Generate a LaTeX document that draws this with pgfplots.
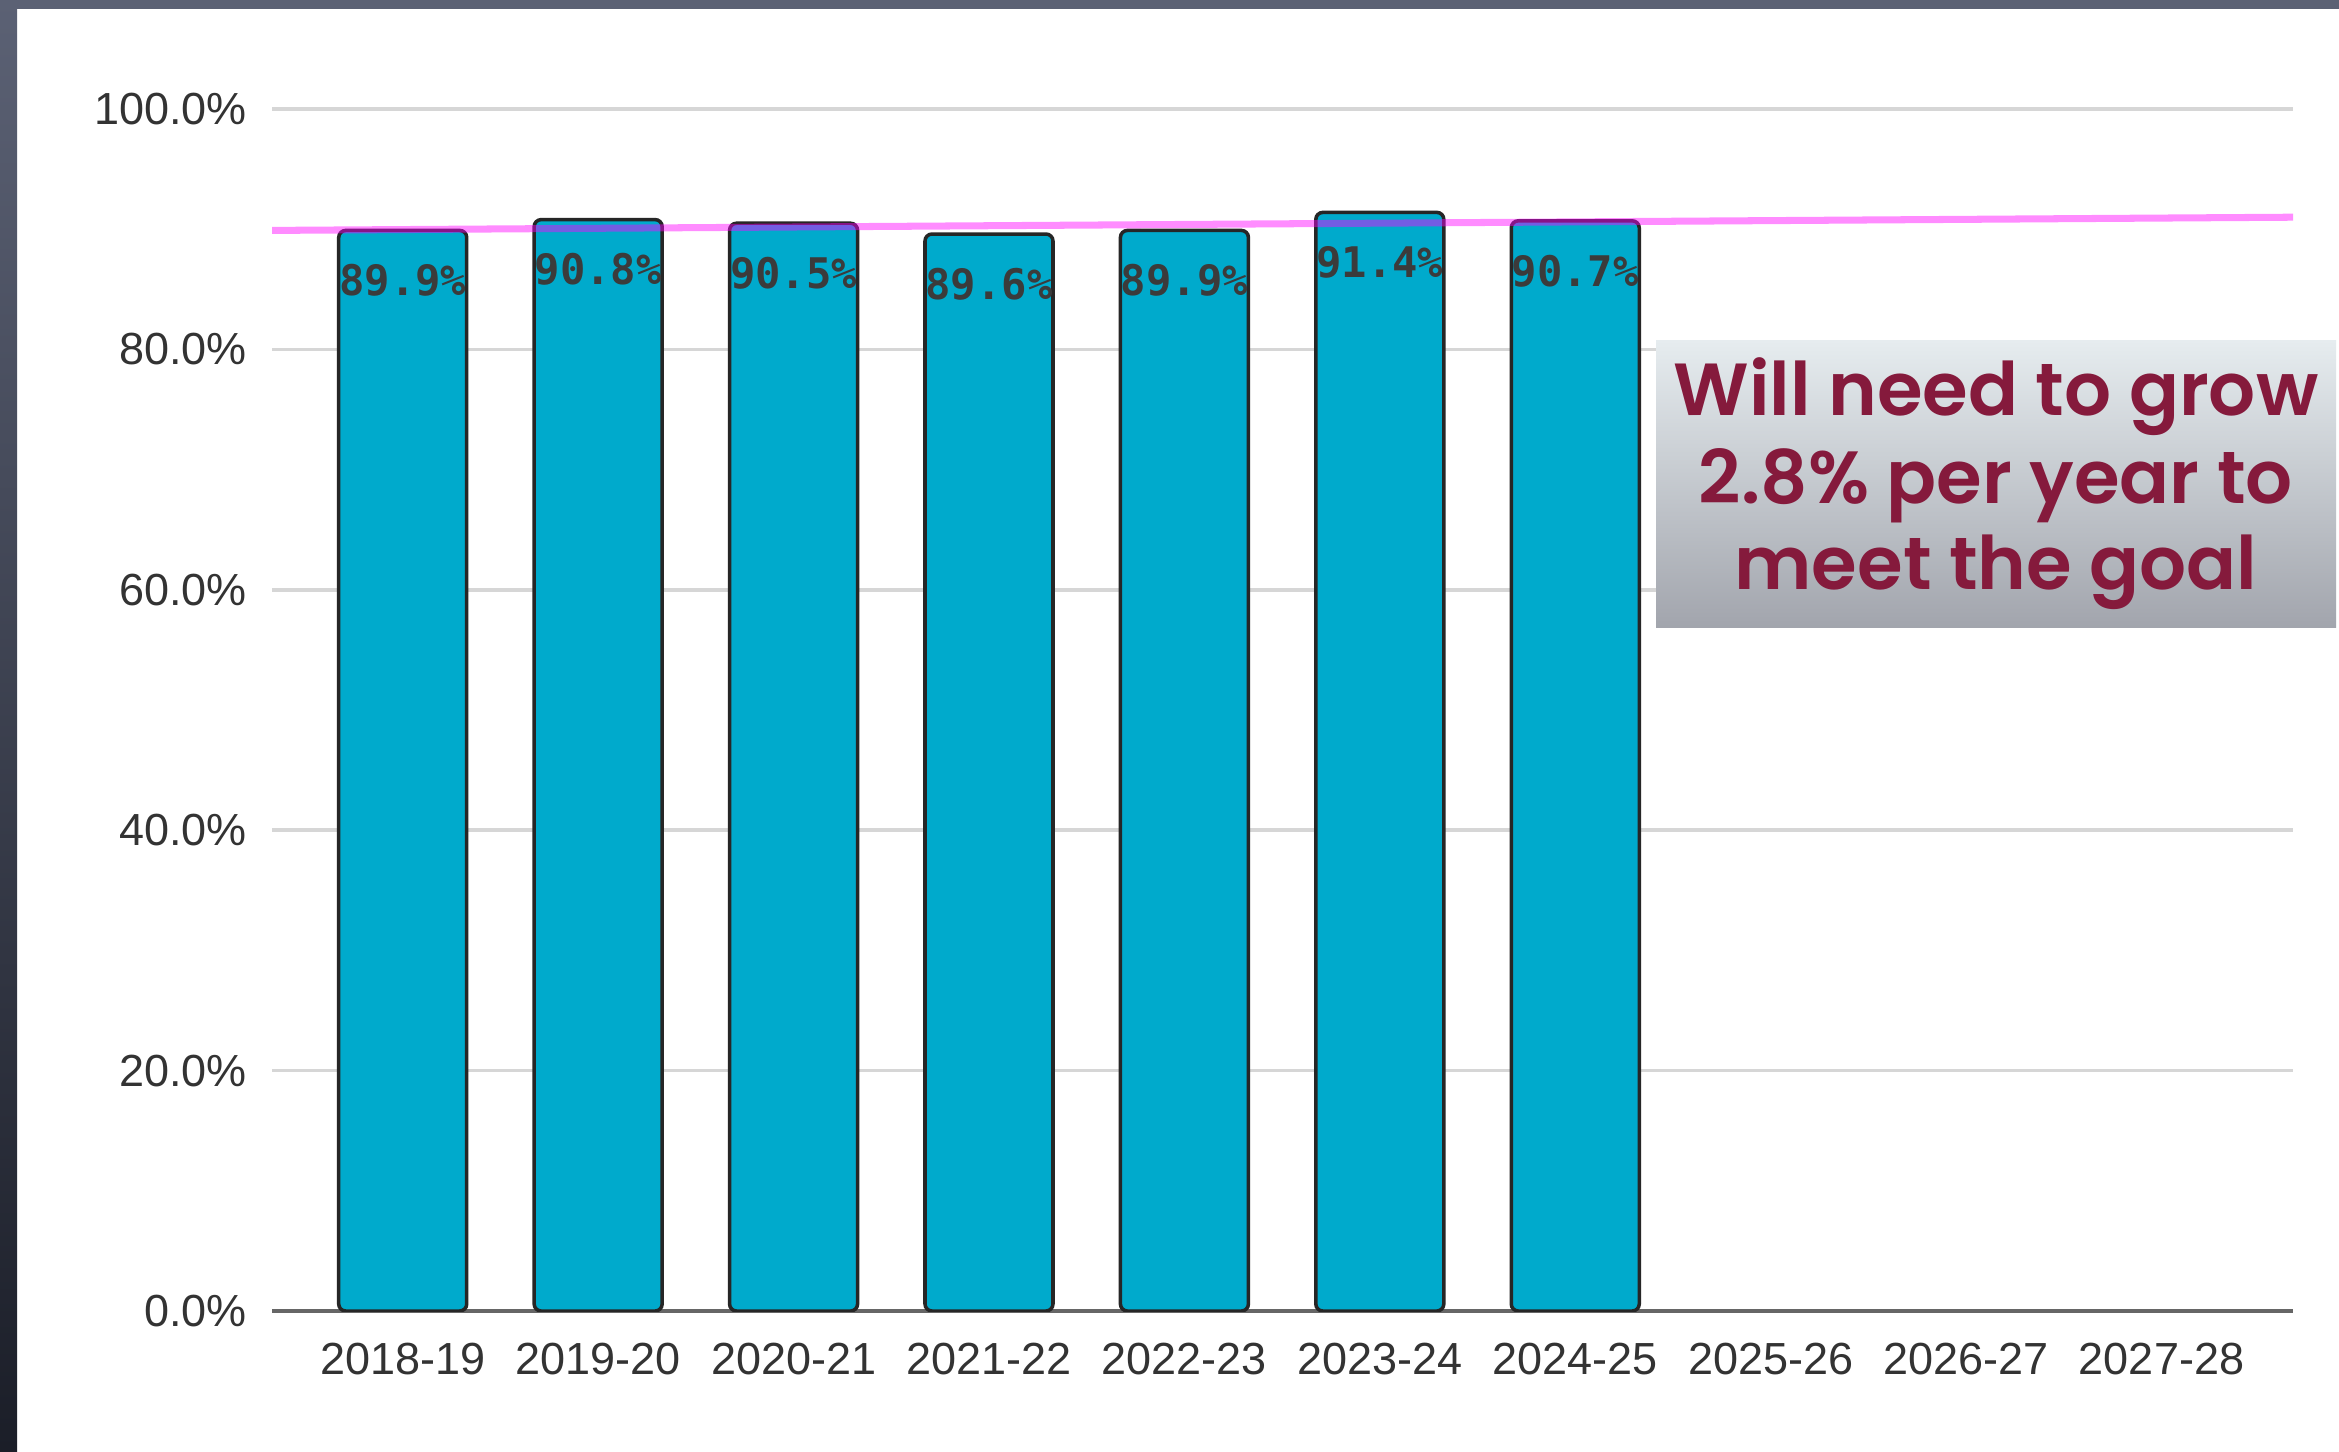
\documentclass[border=0pt]{standalone}
\usepackage{pgfplots}
\pgfplotsset{compat=1.18}
\usepackage{fontspec}
\setmainfont{Liberation Sans}
\newfontfamily\monofont{DejaVu Sans Mono}
\newfontfamily\boxfont{Poppins}[UprightFont=*, BoldFont=* SemiBold]
\definecolor{framec}{HTML}{5B6174}
\definecolor{framed}{HTML}{1B1E28}
\definecolor{barc}{HTML}{00AACC}
\definecolor{gridc}{HTML}{D6D6D6}
\definecolor{axisc}{HTML}{666666}
\definecolor{txtc}{HTML}{333333}
\definecolor{lblc}{HTML}{3B3B3B}
\definecolor{maroonc}{HTML}{851A3C}
\definecolor{boxtop}{HTML}{E6ECEF}
\definecolor{boxbot}{HTML}{A2A5AD}
\definecolor{goalc}{HTML}{FF00FF}
\begin{document}
\begin{tikzpicture}
\path[use as bounding box] (0,0) rectangle (23.39,-14.51);
\fill[white] (0,0) rectangle (23.39,-14.51);
\fill[framec] (0,0) rectangle (23.39,-0.09);
\shade[top color=framec, bottom color=framed] (0,0) rectangle (0.17,-14.51);
\begin{axis}[
  at={(2.72cm,-13.11cm)}, anchor=south west,
  scale only axis, width=20.21cm, height=12.02cm,
  xmin=-0.669, xmax=9.673, ymin=0, ymax=100,
  axis lines*=left,
  y axis line style={draw=none},
  x axis line style={axisc, line width=1.4pt, -},
  major tick length=0pt,
  ymajorgrids, grid style={gridc, line width=1pt},
  xtick={0,1,2,3,4,5,6,7,8,9},
  xticklabels={2018-19,2019-20,2020-21,2021-22,2022-23,2023-24,2024-25,2025-26,2026-27,2027-28},
  ytick={0,20,40,60,80,100},
  yticklabels={0.0\%,20.0\%,40.0\%,60.0\%,80.0\%,100.0\%},
  tick label style={font=\fontsize{12.8}{15}\selectfont, text=txtc},
  yticklabel style={inner sep=0pt, xshift=-7pt},
  xticklabel style={inner sep=0pt, yshift=-9pt},
  /pgf/number format/assume math mode=true,
]
\addplot[ybar, bar width=1.28cm, fill=barc, draw=black!85, line width=1pt,
  rounded corners=2pt,
  nodes near coords={\pgfmathprintnumber[fixed,fixed zerofill,precision=1]{\pgfplotspointmeta}\%},
  nodes near coords style={anchor=center, yshift=-5mm, text=lblc, fill=none, draw=none,
    font=\monofont\bfseries\fontsize{12}{14}\selectfont, inner sep=0pt}]
coordinates {(0,89.9) (1,90.8) (2,90.5) (3,89.6) (4,89.9) (5,91.4) (6,90.7)};
\addplot[goalc, opacity=0.45, line width=2pt, mark=none] coordinates {(-0.669,89.9) (9.673,91.0)};
\end{axis}
\shade[top color=boxtop, bottom color=boxbot] (16.56,-3.40) rectangle (23.36,-6.27);
\node[anchor=base, text=maroonc, font=\boxfont\bfseries\fontsize{21}{24}\selectfont, inner sep=0pt] at (19.96,-4.15) {Will need to grow};
\node[anchor=base, text=maroonc, font=\boxfont\bfseries\fontsize{21}{24}\selectfont, inner sep=0pt] at (19.96,-5.03) {2.8\% per year to};
\node[anchor=base, text=maroonc, font=\boxfont\bfseries\fontsize{21}{24}\selectfont, inner sep=0pt] at (19.96,-5.89) {meet the goal};
\end{tikzpicture}
\end{document}
